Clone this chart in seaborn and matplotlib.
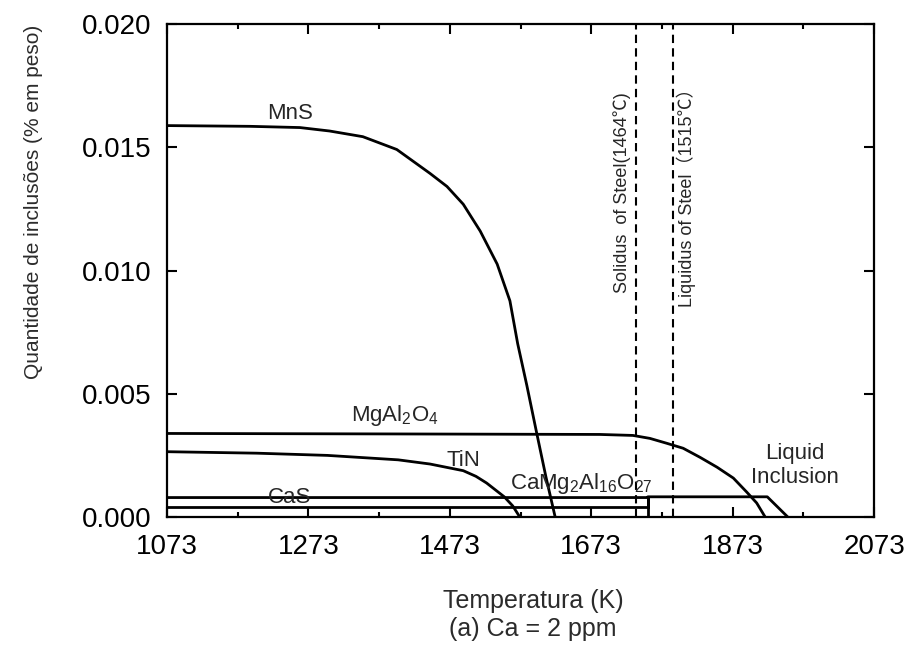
import numpy as np
import pandas as pd
import matplotlib
matplotlib.use('Agg')
import matplotlib.pyplot as plt
import seaborn as sns

sns.set_style('ticks')
plt.rcParams['font.family'] = ['Liberation Sans', 'Noto Sans CJK SC', 'DejaVu Sans']

# data (temperature in K, amount in wt%)
mns_T = [1073, 1190, 1261, 1303, 1350, 1398, 1445, 1469, 1492, 1516, 1540, 1558, 1569,
         1582, 1596, 1609, 1622]
mns_v = [0.01588, 0.01585, 0.0158, 0.01566, 0.01543, 0.01491, 0.01394, 0.01341, 0.01269,
         0.0116, 0.01026, 0.00877, 0.00703, 0.00533, 0.00339, 0.00162, 0.0]

tin_T = [1073, 1200, 1300, 1400, 1445, 1492, 1510, 1525, 1550, 1562, 1572]
tin_v = [0.00265, 0.00259, 0.0025, 0.00232, 0.00215, 0.00188, 0.00165, 0.00138, 0.00082,
         0.00045, 0.0]

spinel_T = [1073, 1400, 1685, 1732, 1756, 1780, 1803, 1827, 1851, 1874, 1893, 1907, 1919]
spinel_v = [0.00339, 0.00337, 0.00335, 0.00331, 0.00319, 0.00299, 0.00279, 0.00242,
            0.00202, 0.00158, 0.00101, 0.00057, 0.0]

cas_T = [1073, 1753, 1753, 1753]
cas_v = [0.0004, 0.0004, 0.0008, 0.0]

cma_T = [1073, 1753, 1753, 1922, 1951]
cma_v = [0.00079, 0.00079, 0.00082, 0.00082, 0.0]

solidus_T = 1737   # 1464 C
liquidus_T = 1788  # 1515 C

xticks = [1073, 1273, 1473, 1673, 1873, 2073]
yticks = [0.000, 0.005, 0.010, 0.015, 0.020]

series = {
    'MnS': (mns_T, mns_v),
    'TiN': (tin_T, tin_v),
    'MgAl2O4': (spinel_T, spinel_v),
    'CaS': (cas_T, cas_v),
    'CaMg2Al16O27': (cma_T, cma_v),
}

fig = plt.figure(figsize=(9.1, 6.62), dpi=100)
ax = fig.add_axes([0.1835, 0.219, 0.777, 0.7447])

for name, (T, v) in series.items():
    df = pd.DataFrame({'T': T, 'v': v})
    sns.lineplot(data=df, x='T', y='v', ax=ax, color='black', lw=2.0,
                 sort=False, estimator=None)

for t in (solidus_T, liquidus_T):
    ax.axvline(t, color='black', lw=1.5, ls=(0, (4, 2.5)))

ax.set_xlim(1073, 2073)
ax.set_ylim(0, 0.020)
ax.set_xticks(xticks)
ax.set_xticks(np.arange(1173, 2073, 200), minor=True)
ax.set_yticks(yticks)
ax.set_yticklabels(['%.3f' % y for y in yticks])
ax.tick_params(which='both', direction='in', top=True, right=True, width=1.5,
               labelsize=20, colors='black')
ax.tick_params(which='major', length=7)
ax.tick_params(which='minor', length=3.5)
ax.tick_params(axis='x', pad=12)
ax.tick_params(axis='y', pad=11)
for s in ax.spines.values():
    s.set_linewidth(1.6)
    s.set_color('black')

ax.set_xlabel('Temperatura (K)\n(a) Ca = 2 ppm', fontsize=18, color='#2b2b2b',
              linespacing=1.25)
ax.xaxis.set_label_coords(0.518, -0.145)
ax.set_ylabel('Quantidade de inclusões (% em peso)', fontsize=15, color='#2b2b2b')
ax.yaxis.set_label_coords(-0.175, 0.64)

fs = 16
ax.text(1247, 0.01636, 'MnS', fontsize=fs, ha='center', va='center')
ax.text(1395, 0.0041, r'$\mathregular{MgAl_2O_4}$', fontsize=fs, ha='center', va='center')
ax.text(1492, 0.0023, 'TiN', fontsize=fs, ha='center', va='center')
ax.text(1659, 0.00135, r'$\mathregular{CaMg_2Al_{16}O_{27}}$', fontsize=fs,
        ha='center', va='center')
ax.text(1247, 0.0008, 'CaS', fontsize=fs, ha='center', va='center')
ax.text(1961, 0.0021, 'Liquid\nInclusion', fontsize=fs, ha='center', va='center',
        linespacing=1.2)
ax.text(1717, 0.01317, 'Solidus  of Steel(1464℃)', fontsize=13, rotation=90,
        ha='center', va='center', family=['Liberation Sans', 'Noto Sans CJK SC'])
ax.text(1807, 0.01313, 'Liquidus of Steel（1515℃）', fontsize=13, rotation=90,
        ha='center', va='center', family=['Liberation Sans', 'Noto Sans CJK SC'])

plt.savefig('out.png', dpi=100)
